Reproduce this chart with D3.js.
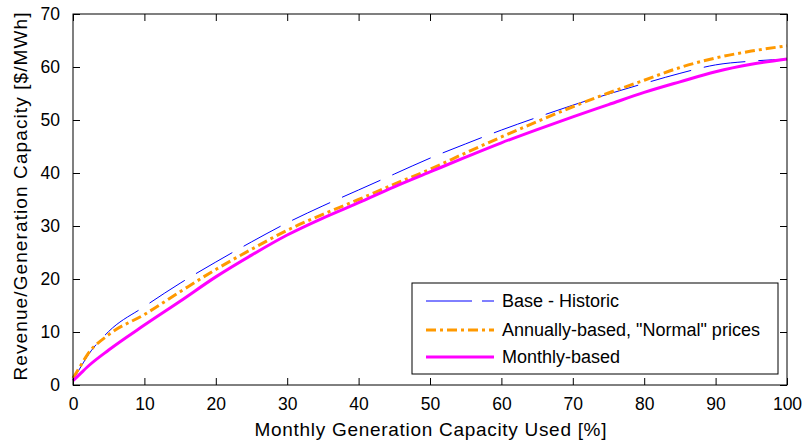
<!DOCTYPE html>
<html>
<head>
<meta charset="utf-8">
<script src="https://cdn.jsdelivr.net/npm/d3@7"></script>
<style>
  body { margin: 0; background: #fff; }
  svg { display: block; font-family: "Liberation Sans", Arial, sans-serif; }
  .axis text { font-size: 17.5px; fill: #000; }
</style>
</head>
<body>
<svg id="chart" width="808" height="443"></svg>
<script>
// values
const capacityUsed = [0, 1, 2, 5, 10, 15, 20, 25, 30, 35, 40, 45, 50, 55, 60, 65, 70, 75, 80, 85, 90, 95, 100]
const baseHistoric = [1.0, 3.2, 5.4, 10.1, 14.8, 19.2, 23.2, 27.0, 30.6, 33.8, 36.8, 39.8, 42.8, 45.5, 48.1, 50.5, 52.8, 54.9, 56.9, 58.8, 60.4, 61.1, 61.5]
const annuallyBased = [1.3, 3.5, 5.7, 9.5, 13.3, 17.6, 21.8, 25.6, 29.2, 32.2, 35.0, 37.9, 40.7, 43.8, 46.8, 49.7, 52.5, 55.1, 57.5, 59.9, 61.7, 63.0, 64.0]
const monthlyBased = [0.8, 2.1, 3.4, 6.6, 11.3, 15.8, 20.4, 24.5, 28.3, 31.5, 34.4, 37.4, 40.2, 43.0, 45.7, 48.2, 50.6, 52.9, 55.2, 57.2, 59.1, 60.5, 61.5]
const xTicks = [0, 10, 20, 30, 40, 50, 60, 70, 80, 90, 100]
const yTicks = [0, 10, 20, 30, 40, 50, 60, 70]
const seriesNames = ["Base - Historic", "Annually-based, \"Normal\" prices", "Monthly-based"]

const MARGIN = { LEFT: 73, RIGHT: 21, TOP: 14, BOTTOM: 58 }
const WIDTH = 808 - MARGIN.LEFT - MARGIN.RIGHT
const HEIGHT = 443 - MARGIN.TOP - MARGIN.BOTTOM

const svg = d3.select("#chart")
const g = svg.append("g")
    .attr("transform", `translate(${MARGIN.LEFT}, ${MARGIN.TOP})`)

// scales
const x = d3.scaleLinear().domain([0, 100]).range([0, WIDTH])
const y = d3.scaleLinear().domain([0, 70]).range([HEIGHT, 0])

// series styles
const series = [
    { name: seriesNames[0], values: baseHistoric, color: "#0000ff", width: 1, dash: "42,13", legendDash: "46,10" },
    { name: seriesNames[1], values: annuallyBased, color: "#ff9900", width: 3, dash: "10,4,3,4", legendDash: "10,4,3,4" },
    { name: seriesNames[2], values: monthlyBased, color: "#ff00ff", width: 3, dash: null, legendDash: null }
]

const line = d3.line()
    .x(d => x(d[0]))
    .y(d => y(d[1]))
    .curve(d3.curveMonotoneX)

// lines
series.forEach(s => {
    g.append("path")
        .datum(capacityUsed.map((c, i) => [c, s.values[i]]))
        .attr("fill", "none")
        .attr("stroke", s.color)
        .attr("stroke-width", s.width)
        .attr("stroke-dasharray", s.dash)
        .attr("d", line)
})

// axes, ticks pointing inward (box style)
g.append("g").attr("class", "x axis")
    .attr("transform", `translate(0, ${HEIGHT})`)
    .call(d3.axisBottom(x).tickValues(xTicks).tickSize(-7).tickPadding(13))
g.append("g").attr("class", "y axis")
    .call(d3.axisLeft(y).tickValues(yTicks).tickSize(-7).tickPadding(13))
g.append("g").attr("class", "axis")
    .call(d3.axisTop(x).tickValues(xTicks).tickSize(-7).tickFormat(""))
g.append("g").attr("class", "axis")
    .attr("transform", `translate(${WIDTH}, 0)`)
    .call(d3.axisRight(y).tickValues(yTicks).tickSize(-7).tickFormat(""))

g.selectAll(".axis .domain").remove()
g.selectAll(".axis line").attr("stroke", "#000")

g.append("rect")
    .attr("width", WIDTH)
    .attr("height", HEIGHT)
    .attr("fill", "none")
    .attr("stroke", "#000")
    .attr("stroke-width", 1)

// axis labels
g.append("text")
    .attr("x", WIDTH / 2 + 0.5)
    .attr("y", HEIGHT + 51)
    .attr("text-anchor", "middle")
    .attr("font-size", "19px")
    .attr("textLength", 352)
    .attr("lengthAdjust", "spacing")
    .text("Monthly Generation Capacity Used [%]")

g.append("text")
    .attr("transform", "rotate(-90)")
    .attr("x", -HEIGHT / 2 + 3)
    .attr("y", -46)
    .attr("text-anchor", "middle")
    .attr("font-size", "19px")
    .attr("textLength", 368)
    .attr("lengthAdjust", "spacing")
    .text("Revenue/Generation Capacity [$/MWh]")

// legend
const legend = svg.append("g").attr("transform", "translate(412, 283)")
legend.append("rect")
    .attr("width", 366)
    .attr("height", 91)
    .attr("fill", "#fff")
    .attr("stroke", "#000")
    .attr("stroke-width", 1)

const rowY = [18, 47, 74]
series.forEach((s, i) => {
    legend.append("line")
        .attr("x1", 14).attr("x2", 82)
        .attr("y1", rowY[i]).attr("y2", rowY[i])
        .attr("stroke", s.color)
        .attr("stroke-width", s.width)
        .attr("stroke-dasharray", s.legendDash)
    legend.append("text")
        .attr("x", 90)
        .attr("y", rowY[i])
        .attr("dy", "0.35em")
        .attr("font-size", "18px")
        .text(s.name)
})
</script>
</body>
</html>
